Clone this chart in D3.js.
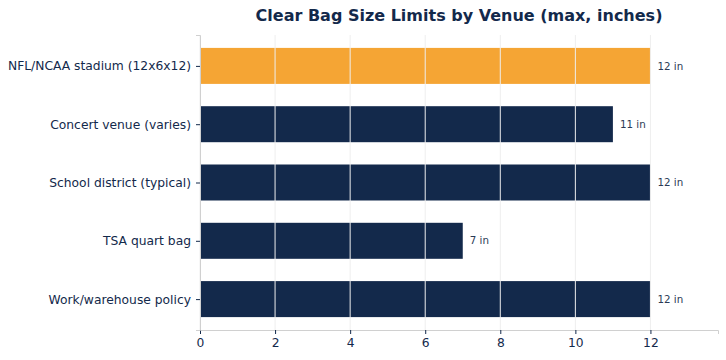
<!DOCTYPE html>
<html>
<head>
<meta charset="utf-8">
<script src="https://cdn.jsdelivr.net/npm/d3@7"></script>
<style>
  body { margin: 0; background: #fff; }
  text { font-family: "DejaVu Sans", sans-serif; }
</style>
</head>
<body>
<div id="chart"></div>
<script>
// Data
const venues = [
	'NFL/NCAA stadium (12x6x12)',
	'Concert venue (varies)',
	'School district (typical)',
	'TSA quart bag',
	'Work/warehouse policy',
];
const maxInches = [12, 11, 12, 7, 12];
const highlight = [true, false, false, false, false];
const xTicks = [0, 2, 4, 6, 8, 10, 12];

const W = 726, H = 360;
const margin = { top: 35, right: 8, bottom: 30, left: 200 };
const width = W - margin.left - margin.right;
const height = H - margin.top - margin.bottom;
const navy = '#13294b';

const svg = d3.select('#chart')
	.append('svg')
	.attr('width', W)
	.attr('height', H);

const g = svg.append('g')
	.attr('transform', `translate(${margin.left},${margin.top})`);

// Scales
const x = d3.scaleLinear().domain([0, 12 * 1.15]).range([0, width]);
const y = d3.scaleLinear().domain([-0.53, 4.53]).range([0, height]);
const barH = 36;

// Bars
g.selectAll('rect.bar')
	.data(venues)
	.enter()
	.append('rect')
	.attr('class', 'bar')
	.attr('x', x(0))
	.attr('y', (d, i) => y(i) - barH / 2)
	.attr('width', (d, i) => x(maxInches[i]) - x(0))
	.attr('height', barH)
	.attr('fill', (d, i) => (highlight[i] ? '#f5a534' : navy));

// Grid lines (drawn over bars)
g.selectAll('line.grid')
	.data(xTicks)
	.enter()
	.append('line')
	.attr('class', 'grid')
	.attr('x1', (d) => x(d))
	.attr('x2', (d) => x(d))
	.attr('y1', 0)
	.attr('y2', height)
	.attr('stroke', '#eeeeee')
	.attr('stroke-width', 1);

// Value labels
g.selectAll('text.val')
	.data(venues)
	.enter()
	.append('text')
	.attr('class', 'val')
	.attr('x', (d, i) => x(maxInches[i]) + 7)
	.attr('y', (d, i) => y(i))
	.attr('dy', '0.35em')
	.attr('fill', '#2b3a55')
	.style('font-size', '10.3px')
	.text((d, i) => `${maxInches[i]} in`);

// Axes
const xAxis = g.append('g')
	.attr('transform', `translate(0,${height})`)
	.call(d3.axisBottom(x).tickValues(xTicks).tickSize(4).tickPadding(4));
xAxis.select('.domain').attr('stroke', '#d0d0d0');
xAxis.selectAll('.tick line').attr('stroke', navy);
xAxis.selectAll('.tick text')
	.attr('fill', navy)
	.style('font-size', '12.3px')
	.style('font-family', '"DejaVu Sans", sans-serif');

const yAxis = g.append('g')
	.call(d3.axisLeft(y).tickValues(d3.range(venues.length))
		.tickFormat((i) => venues[i]).tickSize(4).tickPadding(5));
yAxis.select('.domain').attr('stroke', '#d0d0d0');
yAxis.selectAll('.tick line').attr('stroke', navy);
yAxis.selectAll('.tick text')
	.attr('fill', navy)
	.style('font-size', '12.3px')
	.style('font-family', '"DejaVu Sans", sans-serif');

// Title
svg.append('text')
	.attr('x', margin.left + width / 2)
	.attr('y', 21)
	.attr('text-anchor', 'middle')
	.attr('fill', navy)
	.style('font-size', '16px')
	.style('font-weight', 'bold')
	.text('Clear Bag Size Limits by Venue (max, inches)');
</script>
</body>
</html>
